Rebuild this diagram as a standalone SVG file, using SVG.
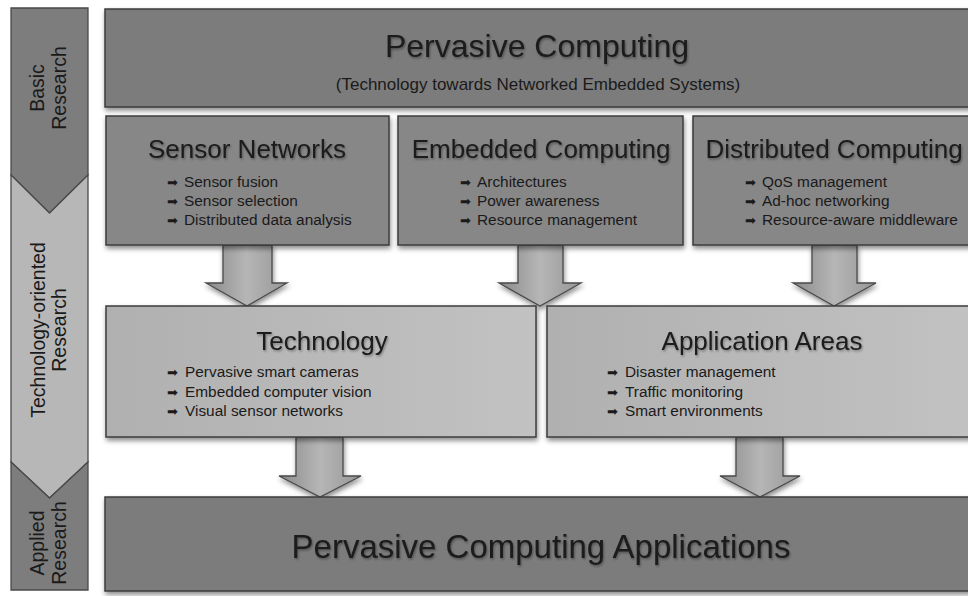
<svg xmlns="http://www.w3.org/2000/svg" width="968" height="596" viewBox="0 0 968 596">
<defs>
<filter id="sh" x="-10%" y="-10%" width="120%" height="130%"><feDropShadow dx="1" dy="3" stdDeviation="2.5" flood-color="#000" flood-opacity="0.45"/></filter>
<filter id="tsh" x="-5%" y="-20%" width="110%" height="150%"><feDropShadow dx="1" dy="1.5" stdDeviation="1" flood-color="#000" flood-opacity="0.35"/></filter>
<linearGradient id="light" x1="0" y1="0" x2="1" y2="0"><stop offset="0" stop-color="#b0b0b0"/><stop offset="1" stop-color="#c2c2c2"/></linearGradient>
<linearGradient id="arr" x1="0" y1="0" x2="1" y2="0"><stop offset="0" stop-color="#8a8a8a"/><stop offset="0.5" stop-color="#b6b6b6"/><stop offset="1" stop-color="#969696"/></linearGradient>
</defs>
<style>
.box{stroke:#3c3c3c;stroke-width:1.5;filter:url(#sh)}
.dark{fill:#7c7c7c}
.mid{fill:#878787}
.lt{fill:url(#light)}
.t{font-family:"Liberation Sans",Arial,sans-serif;fill:#1a1a1a}
.big{font-size:32px;text-anchor:middle;filter:url(#tsh)}
.big2{font-size:33px;text-anchor:middle;filter:url(#tsh)}
.ttl{font-size:26px;text-anchor:middle;filter:url(#tsh)}
.sub{font-size:17px;text-anchor:middle}
.bl{font-size:15.4px}
.side{font-size:19.5px;text-anchor:middle}
.ar{fill:url(#arr);stroke:#4a4a4a;stroke-width:1.3;filter:url(#sh)}
.bul{font-family:"DejaVu Sans",sans-serif;font-size:13px}
</style>
<rect width="968" height="596" fill="#ffffff"/>
<g id="stages">
<path d="M11,8 H88 V175 L49.5,213 L11,175 Z" fill="#7d7d7d" stroke="#4a4a4a" stroke-width="1.3"/>
<path d="M11,175 L49.5,213 L88,175 V462 L49.5,498 L11,462 Z" fill="#b7b7b7" stroke="#4a4a4a" stroke-width="1.3"/>
<path d="M11,462 L49.5,498 L88,462 V590 H11 Z" fill="#7d7d7d" stroke="#4a4a4a" stroke-width="1.3"/>
<text class="t side" transform="translate(44,88) rotate(-90)">Basic</text>
<text class="t side" transform="translate(66,88) rotate(-90)">Research</text>
<text class="t side" transform="translate(45,330) rotate(-90)">Technology-oriented</text>
<text class="t side" transform="translate(66,330) rotate(-90)">Research</text>
<text class="t side" transform="translate(44,543) rotate(-90)">Applied</text>
<text class="t side" transform="translate(66,543) rotate(-90)">Research</text>
</g>
<g id="connectors">
<path class="ar" d="M223,245 H272 V283 H287 L247,306 L206,283 H223 Z"/>
<path class="ar" d="M518,245 H563 V283 H581 L540,306 L499,283 H518 Z"/>
<path class="ar" d="M812,245 H857 V283 H876 L834,306 L793,283 H812 Z"/>
<path class="ar" d="M296,437 H343 V476 H361 L320,497 L279,476 H296 Z"/>
<path class="ar" d="M736,437 H783 V476 H800 L760,497 L720,476 H736 Z"/>
</g>
<g id="pervasive-computing">
<rect class="box dark" x="105" y="9" width="870" height="98"/>
<text class="t big" x="537" y="57">Pervasive Computing</text>
<text class="t sub" x="538" y="90">(Technology towards Networked Embedded Systems)</text>
</g>
<g id="sensor-networks">
<rect class="box mid" x="106" y="116" width="283" height="129"/>
<text class="t ttl" x="247" y="158">Sensor Networks</text>
<text class="t bl" x="167" y="187"><tspan class="bul">➡</tspan><tspan x="184">Sensor fusion</tspan></text>
<text class="t bl" x="167" y="206"><tspan class="bul">➡</tspan><tspan x="184">Sensor selection</tspan></text>
<text class="t bl" x="167" y="225"><tspan class="bul">➡</tspan><tspan x="184">Distributed data analysis</tspan></text>
</g>
<g id="embedded-computing">
<rect class="box mid" x="398" y="116" width="285" height="129"/>
<text class="t ttl" x="541" y="158">Embedded Computing</text>
<text class="t bl" x="460" y="187"><tspan class="bul">➡</tspan><tspan x="477">Architectures</tspan></text>
<text class="t bl" x="460" y="206"><tspan class="bul">➡</tspan><tspan x="477">Power awareness</tspan></text>
<text class="t bl" x="460" y="225"><tspan class="bul">➡</tspan><tspan x="477">Resource management</tspan></text>
</g>
<g id="distributed-computing">
<rect class="box mid" x="693" y="116" width="290" height="129"/>
<text class="t ttl" x="834" y="158">Distributed Computing</text>
<text class="t bl" x="745" y="187"><tspan class="bul">➡</tspan><tspan x="762">QoS management</tspan></text>
<text class="t bl" x="745" y="206"><tspan class="bul">➡</tspan><tspan x="762">Ad-hoc networking</tspan></text>
<text class="t bl" x="745" y="225"><tspan class="bul">➡</tspan><tspan x="762">Resource-aware middleware</tspan></text>
</g>
<g id="technology">
<rect class="box lt" x="106" y="306" width="430" height="131"/>
<text class="t ttl" x="322" y="350">Technology</text>
<text class="t bl" x="167" y="377"><tspan class="bul">➡</tspan><tspan x="185">Pervasive smart cameras</tspan></text>
<text class="t bl" x="167" y="397"><tspan class="bul">➡</tspan><tspan x="185">Embedded computer vision</tspan></text>
<text class="t bl" x="167" y="416"><tspan class="bul">➡</tspan><tspan x="185">Visual sensor networks</tspan></text>
</g>
<g id="application-areas">
<rect class="box lt" x="547" y="306" width="430" height="131"/>
<text class="t ttl" x="762" y="350">Application Areas</text>
<text class="t bl" x="607" y="377"><tspan class="bul">➡</tspan><tspan x="625">Disaster management</tspan></text>
<text class="t bl" x="607" y="397"><tspan class="bul">➡</tspan><tspan x="625">Traffic monitoring</tspan></text>
<text class="t bl" x="607" y="416"><tspan class="bul">➡</tspan><tspan x="625">Smart environments</tspan></text>
</g>
<g id="pervasive-computing-applications">
<rect class="box dark" x="105" y="497" width="870" height="94"/>
<text class="t big2" x="541" y="558">Pervasive Computing Applications</text>
</g>
</svg>
